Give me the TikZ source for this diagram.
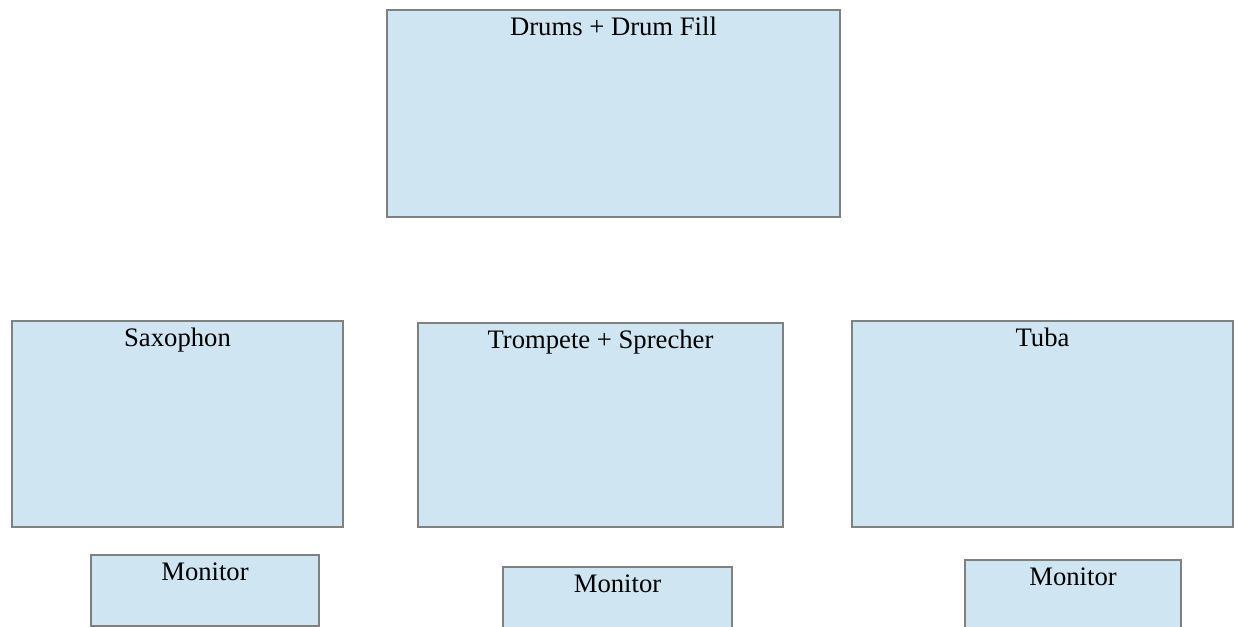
\documentclass[tikz,border=0pt]{standalone}
\usepackage{fontspec}
\setmainfont{Liberation Serif}
\definecolor{boxfill}{RGB}{207,229,242}
\definecolor{boxline}{RGB}{128,128,128}
\tikzset{
    stagebox/.style={draw=boxline, line width=1.5pt, fill=boxfill, anchor=north west,
        inner sep=0pt, outer sep=0pt, text height=19.1pt, font=\fontsize{20pt}{24pt}\selectfont}
}

\begin{document}
\begin{tikzpicture}[x=0.75pt, y=-0.75pt]
    \useasboundingbox (0,0) rectangle (1234,627);
    \clip (0,0) rectangle (1234,627);

    % back line
    \node (drums) at (387,10) [stagebox, minimum width=339.75pt, text depth=136.1pt] {Drums + Drum Fill};

    % front line
    \node (sax) at (12,321) [stagebox, minimum width=248.25pt, text depth=135.4pt] {Saxophon};
    \node (trp) at (418,323) [stagebox, minimum width=273.75pt, text depth=133.9pt] {Trompete + Sprecher};
    \node (tuba) at (852,321) [stagebox, minimum width=285.75pt, text depth=135.4pt] {Tuba};

    % monitors
    \node (monsax) at (91,555) [stagebox, minimum width=171pt, text depth=34.1pt] {Monitor};
    \node (montrp) at (503,567) [stagebox, minimum width=171.75pt, text depth=34.1pt] {Monitor};
    \node (montuba) at (965,560) [stagebox, minimum width=162pt, text depth=34.1pt] {Monitor};

\end{tikzpicture}
\end{document}
